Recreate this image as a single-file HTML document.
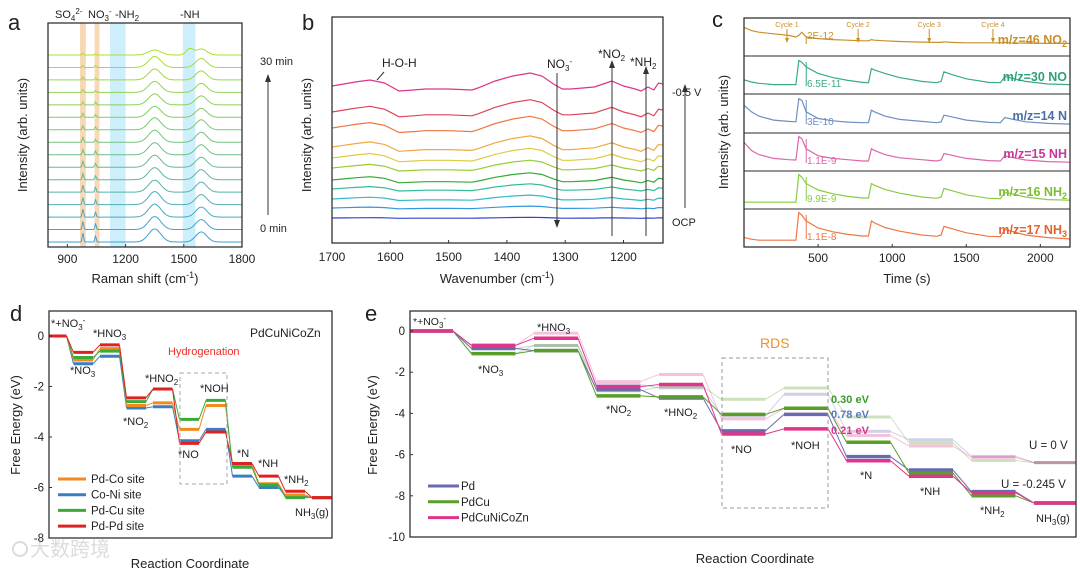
<!DOCTYPE html>
<html><head><meta charset="utf-8">
<style>
html,body{margin:0;padding:0;background:#fff;}
svg{display:block;font-family:"Liberation Sans","Noto Sans CJK SC",sans-serif;}
</style></head>
<body>
<svg id="fig" width="1080" height="574" viewBox="0 0 1080 574" xmlns="http://www.w3.org/2000/svg">
<g id="pa"></g>
<g id="pb"></g>
<g id="pc"></g>
<g id="pd"></g>
<g id="pe"></g>
<g opacity="0.35">
<circle cx="20" cy="549" r="7" fill="none" stroke="#999" stroke-width="2"/>
<text x="30" y="556" font-size="20" fill="#999" font-family="'Liberation Sans','Noto Sans CJK SC',sans-serif">大数跨境</text>
</g>
</svg>
<script>
// ---------- DATA ----------
// Panel a: Raman peaks (cm-1) and heights per trace (bottom -> top), px units of intensity
const ramanPeaks = [980, 1045, 1350, 1590];
const ramanWidths = [5, 5, 45, 40];
const ramanH980 = [9,8,8,7,7,6,6,5,5,4,4,3,3,3,2,2];
const ramanH1045 = [6,6,5,5,5,4,4,4,3,3,3,3,2,2,2,1];
const ramanH1350 = [13,13,13,13,12,12,12,12,12,12,11,11,11,11,11,5];
const ramanH1590 = [10,10,10,10,10,10,10,10,10,10,9,9,9,9,9,6];
const ramanH1530 = [0,0,0,0,0,0,0,0,0,0,0,0,0,0,0,6];
const ramanTicks = [900, 1200, 1500, 1800];
// Panel b: FTIR common shape + per-trace amplitude
const irWave = [1700,1680,1660,1635,1610,1585,1560,1540,1500,1460,1450,1420,1390,1360,1340,1320,1305,1290,1270,1250,1235,1220,1200,1180,1170,1158,1148,1140,1132];
const irShape = [0,2,4,6,3,-5,-4,-3,-3,-4,-2,5,10,13,10,2,-3,-3,-2,-1,2,5,0,-3,-5,-1,-4,3,2];
const irAmp = [0.05,0.15,0.3,0.4,0.55,0.6,0.75,0.85,0.9,0.95,1];
const irOffset = [0,10,19,29,38,50,60,71,90,106,132];
const irTicks = [1700,1600,1500,1400,1300,1200];
// Panel c: mass spec
const msTime = [0,50,100,200,300,350,370,390,420,500,600,700,800,840,860,880,950,1050,1200,1300,1330,1350,1400,1500,1650,1730,1760,1790,1900,2050,2200];
const msNO  = [0.35,0.28,0.24,0.2,0.2,0.2,0.95,0.9,0.75,0.55,0.42,0.33,0.27,0.26,0.7,0.66,0.55,0.42,0.3,0.26,0.3,0.6,0.52,0.38,0.27,0.26,0.45,0.42,0.3,0.22,0.2];
const msN   = [0.75,0.55,0.42,0.3,0.26,0.25,0.95,0.9,0.55,0.35,0.28,0.24,0.22,0.22,0.6,0.55,0.42,0.32,0.26,0.22,0.25,0.45,0.4,0.3,0.23,0.22,0.38,0.35,0.25,0.2,0.18];
const msNH  = [0.8,0.55,0.42,0.3,0.26,0.25,0.98,0.92,0.6,0.38,0.3,0.26,0.22,0.22,0.6,0.55,0.42,0.32,0.26,0.22,0.25,0.45,0.4,0.3,0.23,0.22,0.38,0.35,0.25,0.2,0.18];
const msNH2 = [0.12,0.12,0.12,0.12,0.12,0.12,0.98,0.9,0.7,0.5,0.38,0.3,0.25,0.25,0.7,0.65,0.52,0.4,0.28,0.24,0.28,0.55,0.48,0.35,0.24,0.23,0.42,0.4,0.28,0.2,0.18];
const msNH3 = [0.2,0.15,0.12,0.12,0.12,0.12,0.98,0.9,0.72,0.5,0.38,0.3,0.25,0.25,0.72,0.66,0.52,0.4,0.28,0.24,0.28,0.55,0.48,0.35,0.24,0.23,0.45,0.42,0.28,0.2,0.16];
const msNO2 = [0.8,0.7,0.65,0.6,0.55,0.5,0.55,0.65,0.5,0.45,0.42,0.4,0.38,0.38,0.42,0.4,0.38,0.36,0.34,0.33,0.33,0.35,0.33,0.32,0.32,0.32,0.33,0.32,0.31,0.3,0.3];
const msTicks = [500,1000,1500,2000];
// Panel d: free energy (eV), states in order
const dStates = ["*+NO3-","*NO3","*HNO3","*NO2","*HNO2","*NO","*NOH","*N","*NH","*NH2","NH3(g)"];
const dPdCo = [0,-0.95,-0.5,-2.75,-2.65,-3.7,-2.75,-5.1,-5.85,-6.3,-6.4];
const dCoNi = [0,-1.1,-0.8,-2.85,-2.8,-4.15,-3.7,-5.55,-6.0,-6.35,-6.4];
const dPdCu = [0,-0.85,-0.6,-2.6,-2.1,-3.3,-2.55,-5.2,-5.9,-6.4,-6.4];
const dPdPd = [0,-0.65,-0.35,-2.45,-2.1,-4.25,-3.8,-5.05,-5.55,-6.15,-6.4];
const dTicks = [0,-2,-4,-6,-8];
// Panel e: free energy at U=-0.245 V, and proton-electron steps for U=0 shift
const ePd  = [0,-0.85,-0.95,-2.85,-3.25,-4.85,-4.05,-6.1,-6.75,-7.8,-8.35];
const ePdCu= [0,-1.1,-0.95,-3.15,-3.2,-4.05,-3.75,-5.4,-6.9,-8.0,-8.35];
const eHEA = [0,-0.7,-0.35,-2.7,-2.6,-5.0,-4.75,-6.3,-7.05,-7.85,-8.35];
const eSteps = [0,0,1,1,2,3,4,5,6,7,8];
const eU = 0.245;
const eTicks = [0,-2,-4,-6,-8,-10];

// ---------- HELPERS ----------
const NS="http://www.w3.org/2000/svg";
function mk(parent,tag,attrs){const e=document.createElementNS(NS,tag);for(const k in attrs)e.setAttribute(k,attrs[k]);parent.appendChild(e);return e;}
function txt(parent,x,y,s,size,opt){opt=opt||{};const t=mk(parent,'text',{x:x,y:y,'font-size':size,fill:opt.fill||'#222','text-anchor':opt.anchor||'start','font-weight':opt.bold?'bold':'normal'});
 if(opt.rot)t.setAttribute('transform','rotate(-90 '+x+' '+y+')');t.innerHTML=s;return t;}
function box(p,x0,y0,x1,y1){const r=mk(p,'rect',{x:x0,y:y0,width:x1-x0,height:y1-y0,fill:'none',stroke:'#333','stroke-width':1.3});}

// ---------- PANEL A ----------
(function(){
const g=document.getElementById('pa');
const X0=48,X1=242,Y0=23,Y1=247;
const xs=v=>X0+(v-800)/1000*(X1-X0);
[[965,995,'#f7d9b8'],[1040,1065,'#f7d9b8'],[1120,1200,'#cdeefb'],[1495,1560,'#cdeefb']].forEach(b=>{
 const r=mk(g,'rect',{x:xs(b[0]),y:Y0,width:xs(b[1])-xs(b[0]),height:Y1-Y0,fill:b[2]});
 });
const n=ramanH980.length;
for(let i=0;i<n;i++){
 const base=242-i*(242-55)/(n-1);
 const f=i/(n-1);
 const col='rgb('+Math.round(58+(166-58)*f)+','+Math.round(160+(226-160)*f)+','+Math.round(217+(46-217)*f)+')';
 const hs=[ramanH980[i],ramanH1045[i],ramanH1350[i],ramanH1590[i]];
 let d='';
 for(let v=800;v<=1800;v+=4){
  let y=0;
  for(let k=0;k<4;k++){y+=hs[k]*Math.exp(-Math.pow((v-ramanPeaks[k])/ramanWidths[k],2));}
  y+=ramanH1530[i]*Math.exp(-Math.pow((v-1530)/25,2));
  d+=(d?'L':'M')+xs(v).toFixed(1)+','+(base-y).toFixed(1);
 }
 const p=mk(g,'path',{d:d,fill:'none',stroke:col,'stroke-width':1});
 
}
box(g,X0,Y0,X1,Y1);
ramanTicks.forEach(t=>{mk(g,'line',{x1:xs(t),x2:xs(t),y1:Y1,y2:Y1-3,stroke:'#333'});txt(g,xs(t),263,t,12,{anchor:'middle'});});
txt(g,145,283,'Raman shift (cm<tspan dy="-5" font-size="9">-1</tspan><tspan dy="5">)</tspan>',13,{anchor:'middle'});
txt(g,27,135,'Intensity (arb. units)',13,{anchor:'middle',rot:1});
txt(g,8,30,'a',22);
txt(g,55,18,'SO<tspan font-size="8" dy="3">4</tspan><tspan font-size="8" dy="-7">2-</tspan>',11);
txt(g,88,18,'NO<tspan font-size="8" dy="3">3</tspan><tspan font-size="8" dy="-7">-</tspan>',11);
txt(g,115,18,'-NH<tspan font-size="8" dy="3">2</tspan>',11);
txt(g,180,18,'-NH',11);
txt(g,260,65,'30 min',11);txt(g,260,232,'0 min',11);
mk(g,'line',{x1:268,x2:268,y1:215,y2:80,stroke:'#333','stroke-width':1});
mk(g,'path',{d:'M265,82 L268,74 L271,82 Z',fill:'#333'});
})();

// ---------- PANEL B ----------
(function(){
const g=document.getElementById('pb');
const X0=332,X1=663,Y0=17,Y1=243;
const xs=v=>X0+(1700-v)/100*58.3;
const cols=['#3344cc','#3399dd','#33bbcc','#33bb99','#33aa33','#99cc33','#ddcc44','#eeaa44','#ee7744','#dd4455','#dd3388'];
irAmp.forEach((a,i)=>{
 const base=218-irOffset[i];
 let d='';
 irWave.forEach((w,k)=>{d+=(k?'L':'M')+xs(w).toFixed(1)+','+(base-irShape[k]*a).toFixed(1);});
 const p=mk(g,'path',{d:d,fill:'none',stroke:cols[i],'stroke-width':1.2});
 
});
box(g,X0,Y0,X1,Y1);
irTicks.forEach(t=>{mk(g,'line',{x1:xs(t),x2:xs(t),y1:Y1,y2:Y1-3,stroke:'#333'});txt(g,xs(t),261,t,12,{anchor:'middle'});});
txt(g,497,283,'Wavenumber (cm<tspan dy="-5" font-size="9">-1</tspan><tspan dy="5">)</tspan>',13,{anchor:'middle'});
txt(g,311,135,'Intensity (arb. units)',13,{anchor:'middle',rot:1});
txt(g,302,30,'b',22);
txt(g,382,67,'H-O-H',12);
mk(g,'line',{x1:384,x2:377,y1:72,y2:80,stroke:'#333'});
txt(g,547,68,'NO<tspan font-size="8" dy="3">3</tspan><tspan font-size="8" dy="-7">-</tspan>',12);
mk(g,'line',{x1:557,x2:557,y1:73,y2:222,stroke:'#333'});mk(g,'path',{d:'M554,220 L557,228 L560,220 Z',fill:'#333'});
txt(g,598,58,'*NO<tspan font-size="8" dy="3">2</tspan>',12);
mk(g,'line',{x1:612,x2:612,y1:236,y2:66,stroke:'#333'});mk(g,'path',{d:'M609,68 L612,60 L615,68 Z',fill:'#333'});
txt(g,630,66,'*NH<tspan font-size="8" dy="3">2</tspan>',12);
mk(g,'line',{x1:646,x2:646,y1:236,y2:72,stroke:'#333'});mk(g,'path',{d:'M643,74 L646,66 L649,74 Z',fill:'#333'});
txt(g,672,96,'-0.5 V',11);txt(g,672,226,'OCP',11);
mk(g,'line',{x1:685,x2:685,y1:208,y2:90,stroke:'#333'});mk(g,'path',{d:'M682,92 L685,84 L688,92 Z',fill:'#333'});
})();

// ---------- PANEL C ----------
(function(){
const g=document.getElementById('pc');
const X0=744,X1=1070,Y0=18,Y1=247;
const xs=t=>X0+t/2200*(X1-X0);
const rows=[18,56,94,133,171,209,247];
const series=[msNO2,msNO,msN,msNH,msNH2,msNH3];
const cols=['#c8902a','#3aaa88','#6f8fc0','#dd66aa','#88cc44','#ee7744'];
const lcols=['#c8902a','#2f9e7e','#4a6fa5','#c8389a','#7cbf2e','#e8602c'];
const labels=['m/z=46 NO<tspan font-size="9" dy="3">2</tspan>','m/z=30 NO','m/z=14 N','m/z=15 NH','m/z=16 NH<tspan font-size="9" dy="3">2</tspan>','m/z=17 NH<tspan font-size="9" dy="3">3</tspan>'];
const vals=['2E-12','6.5E-11','3E-10','1.1E-9','9.9E-9','1.1E-8'];
const names=['no2','no','n','nh','nh2','nh3'];
series.forEach((s,i)=>{
 const top=rows[i]+3,h=rows[i+1]-rows[i]-6;
 let d='';
 s.forEach((v,k)=>{d+=(k?'L':'M')+xs(msTime[k]).toFixed(1)+','+(top+h*(1-v)).toFixed(1);});
 const p=mk(g,'path',{d:d,fill:'none',stroke:cols[i],'stroke-width':1.2});
 
 if(i>0)mk(g,'line',{x1:X0,x2:X1,y1:rows[i],y2:rows[i],stroke:'#555','stroke-width':1.2});
 txt(g,1067,rows[i+1]-(i==0?12:13),labels[i],12.5,{anchor:'end',fill:lcols[i],bold:1});
 mk(g,'line',{x1:xs(420),x2:xs(420),y1:rows[i]+(i==0?18:6),y2:rows[i]+(i==0?26:30),stroke:cols[i],'stroke-width':1});
 txt(g,xs(425),rows[i]+(i==0?21:31),vals[i],10,{fill:cols[i]});
});
[[290,'Cycle 1'],[770,'Cycle 2'],[1250,'Cycle 3'],[1680,'Cycle 4']].forEach(c=>{
 txt(g,xs(c[0]),27,c[1],7,{anchor:'middle',fill:'#c8902a'});
 mk(g,'line',{x1:xs(c[0]),x2:xs(c[0]),y1:29,y2:40,stroke:'#c8902a'});
 mk(g,'path',{d:'M'+(xs(c[0])-2)+',38 L'+xs(c[0])+',43 L'+(xs(c[0])+2)+',38Z',fill:'#c8902a'});
});
box(g,X0,Y0,X1,Y1);
msTicks.forEach(t=>{mk(g,'line',{x1:xs(t),x2:xs(t),y1:Y1,y2:Y1-3,stroke:'#333'});txt(g,xs(t),262,t,12,{anchor:'middle'});});
txt(g,907,283,'Time (s)',13,{anchor:'middle'});
txt(g,728,132,'Intensity (arb. units)',13,{anchor:'middle',rot:1});
txt(g,712,27,'c',22);
})();

// ---------- STEP DIAGRAM ----------
function steps(g,vals,ys,start0,sp,w,xmin,xmax,col,lw,op,name){
 const grp=mk(g,'g',{opacity:op});
 
 vals.forEach((v,i)=>{
  const a=Math.max(xmin,start0+i*sp),b=Math.min(xmax,start0+i*sp+w);
  mk(grp,'line',{x1:a,x2:b,y1:ys(v),y2:ys(v),stroke:col,'stroke-width':lw});
  if(i<vals.length-1){const nx=Math.max(xmin,start0+(i+1)*sp);mk(grp,'line',{x1:b,x2:nx,y1:ys(v),y2:ys(vals[i+1]),stroke:col,'stroke-width':1});}
 });
}

// ---------- PANEL D ----------
(function(){
const g=document.getElementById('pd');
const X0=49,X1=332,Y0=311,Y1=538;
const ys=v=>336-v*(-25.25);
const ysf=v=>336+(-v)*25.25;
[[dCoNi,'#3a7fc1','co-ni'],[dPdCo,'#f28a1e','pd-co'],[dPdCu,'#3aaa3a','pd-cu'],[dPdPd,'#dd2222','pd-pd']].forEach(s=>{
 steps(g,s[0],ysf,47,26.5,19.5,X0,X1,s[1],3,1,'energy-profile-'+s[2]);
});
mk(g,'rect',{x:180,y:373,width:47,height:111,fill:'none',stroke:'#aaa','stroke-dasharray':'4,3'});
box(g,X0,Y0,X1,Y1);
dTicks.forEach(t=>{mk(g,'line',{x1:X0,x2:X0+3,y1:ysf(t),y2:ysf(t),stroke:'#333'});txt(g,X0-5,ysf(t)+4,t,11.5,{anchor:'end'});});
txt(g,190,568,'Reaction Coordinate',13,{anchor:'middle'});
txt(g,20,425,'Free Energy (eV)',13,{anchor:'middle',rot:1});
txt(g,10,321,'d',22);
const S='<tspan font-size="8" dy="3">';
txt(g,51,327,'*+NO'+S+'3</tspan><tspan font-size="8" dy="-7">-</tspan>',11);
txt(g,93,337,'*HNO'+S+'3</tspan>',11);
txt(g,70,374,'*NO'+S+'3</tspan>',11);
txt(g,123,425,'*NO'+S+'2</tspan>',11);
txt(g,145,382,'*HNO'+S+'2</tspan>',11);
txt(g,200,392,'*NOH',11);
txt(g,178,458,'*NO',11);
txt(g,237,457,'*N',11);
txt(g,258,467,'*NH',11);
txt(g,284,483,'*NH'+S+'2</tspan>',11);
txt(g,295,516,'NH'+S+'3</tspan><tspan dy="-3">(g)</tspan>',11);
txt(g,250,337,'PdCuNiCoZn',12);
txt(g,168,355,'Hydrogenation',11,{fill:'#e8302a'});
[['#f28a1e','Pd-Co site'],['#3a7fc1','Co-Ni site'],['#3aaa3a','Pd-Cu site'],['#dd2222','Pd-Pd site']].forEach((l,i)=>{
 const y=479+i*15.7;
 const lg=mk(g,'g',{});
 mk(lg,'line',{x1:58,x2:86,y1:y,y2:y,stroke:l[0],'stroke-width':3});
 txt(lg,91,y+4,l[1],11.5);
});
})();

// ---------- PANEL E ----------
(function(){
const g=document.getElementById('pe');
const X0=410,X1=1076,Y0=311,Y1=537;
const ys=v=>331-v*20.6;
const sets=[[ePd,'#6a6ab0','pd'],[ePdCu,'#5a9e2a','pdcu'],[eHEA,'#e0358a','pdcunicozn']];
sets.forEach(s=>{
 const faded=s[0].map((v,i)=>v+eU*eSteps[i]);
 steps(g,faded,ys,409,62.5,44,X0,X1,s[1],3,0.3,'energy-profile-u0-'+s[2]);
});
sets.forEach(s=>{steps(g,s[0],ys,409,62.5,44,X0,X1,s[1],3.5,1,'energy-profile-'+s[2]);});
mk(g,'rect',{x:722,y:358,width:106,height:150,fill:'none',stroke:'#999','stroke-dasharray':'4,3'});
box(g,X0,Y0,X1,Y1);
eTicks.forEach(t=>{mk(g,'line',{x1:X0,x2:X0+3,y1:ys(t),y2:ys(t),stroke:'#333'});txt(g,X0-5,ys(t)+4,t,11.5,{anchor:'end'});});
txt(g,755,563,'Reaction Coordinate',13,{anchor:'middle'});
txt(g,377,425,'Free Energy (eV)',13,{anchor:'middle',rot:1});
txt(g,365,321,'e',22);
const S='<tspan font-size="8" dy="3">';
txt(g,413,325,'*+NO'+S+'3</tspan><tspan font-size="8" dy="-7">-</tspan>',10.5);
txt(g,537,331,'*HNO'+S+'3</tspan>',11);
txt(g,478,373,'*NO'+S+'3</tspan>',11);
txt(g,606,413,'*NO'+S+'2</tspan>',11);
txt(g,664,416,'*HNO'+S+'2</tspan>',11);
txt(g,731,453,'*NO',11);txt(g,791,449,'*NOH',11);
txt(g,860,479,'*N',11);txt(g,920,495,'*NH',11);
txt(g,980,514,'*NH'+S+'2</tspan>',11);
txt(g,1036,522,'NH'+S+'3</tspan><tspan dy="-3">(g)</tspan>',11);
txt(g,1029,449,'U = 0 V',11.5);txt(g,1001,488,'U = -0.245 V',11.5);
txt(g,760,348,'RDS',14,{fill:'#f0902a'});
txt(g,831,403,'0.30 eV',11,{fill:'#3a9a2a',bold:1});
txt(g,831,418,'0.78 eV',11,{fill:'#5a7ab8',bold:1});
txt(g,831,434,'0.21 eV',11,{fill:'#e0358a',bold:1});
[['#6a6ab0','Pd'],['#5a9e2a','PdCu'],['#e0358a','PdCuNiCoZn']].forEach((l,i)=>{
 const y=486+i*15.8;
 const lg=mk(g,'g',{});
 mk(lg,'line',{x1:428,x2:459,y1:y,y2:y,stroke:l[0],'stroke-width':3});
 txt(lg,461,y+4,l[1],11.5);
});
})();
</script>
</body></html>
